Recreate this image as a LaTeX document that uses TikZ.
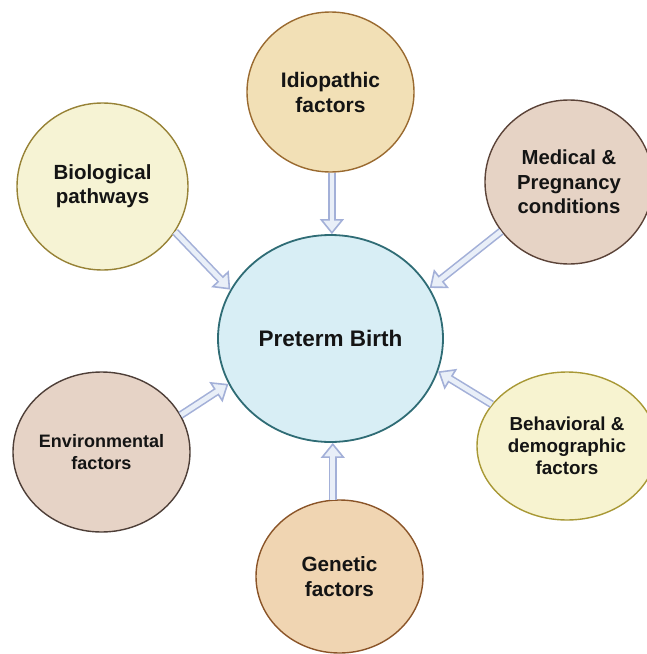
\documentclass[tikz,border=0pt]{standalone}
\usepackage{fontspec}
\setmainfont{Liberation Sans}
\usetikzlibrary{shapes.geometric,arrows.meta}

\definecolor{inkblack}{HTML}{141414}
\definecolor{arrowline}{HTML}{A3B0D8}
\definecolor{arrowfill}{HTML}{E9EFF8}
\definecolor{pbfill}{HTML}{D8EEF5}
\definecolor{pbdraw}{HTML}{2F6C75}
\definecolor{idiofill}{HTML}{F2E0B6}
\definecolor{idiodraw}{HTML}{9A6A30}
\definecolor{biofill}{HTML}{F6F3D4}
\definecolor{biodraw}{HTML}{978236}
\definecolor{medfill}{HTML}{E6D3C5}
\definecolor{meddraw}{HTML}{5B4338}
\definecolor{envfill}{HTML}{E6D3C6}
\definecolor{envdraw}{HTML}{4E3F38}
\definecolor{behfill}{HTML}{F7F3D0}
\definecolor{behdraw}{HTML}{A89835}
\definecolor{genfill}{HTML}{F0D5B2}
\definecolor{gendraw}{HTML}{8A5428}

\tikzset{
  factor/.style={ellipse, draw, line width=1.4pt, inner sep=0pt,
    align=center, text=inkblack},
  % hollow block arrow: outlined shaft plus outlined triangular head
  flow/.style={draw=arrowline, line width=8pt,
    -{Triangle[length=15pt,width=24pt,line width=1.6pt,fill=arrowfill,color=arrowline]},
    postaction={draw=arrowfill, line width=4.8pt, -, shorten >=11pt}},
}

\begin{document}
\begin{tikzpicture}[x=1pt,y=-1pt]
\useasboundingbox (0,0) rectangle (647,654);

% central outcome
\node[factor, fill=pbfill, draw=pbdraw, line width=1.8pt,
      minimum width=225pt, minimum height=207pt,
      font=\fontsize{22.5}{27}\selectfont\bfseries] (pb) at (330.5,338.5) {Preterm Birth};

% contributing factors
\node[factor, fill=idiofill, draw=idiodraw, minimum width=167pt, minimum height=160pt,
      font=\fontsize{21}{25}\selectfont\bfseries] (idio) at (330.5,92) {Idiopathic\\factors};
\node[factor, fill=biofill, draw=biodraw, minimum width=171pt, minimum height=167pt,
      font=\fontsize{20.5}{24}\selectfont\bfseries] (bio) at (102.5,186.5) {Biological\\pathways};
\node[factor, fill=medfill, draw=meddraw, minimum width=168pt, minimum height=164pt,
      font=\fontsize{20.3}{24.5}\selectfont\bfseries] (med) at (569,182) {Medical \&\\Pregnancy\\conditions};
\node[factor, fill=envfill, draw=envdraw, minimum width=177pt, minimum height=160pt,
      font=\fontsize{18}{22}\selectfont\bfseries] (env) at (101.5,452) {Environmental\\factors};
\node[factor, fill=behfill, draw=behdraw, minimum width=180pt, minimum height=148pt,
      font=\fontsize{18.8}{22}\selectfont\bfseries] (beh) at (567,446) {Behavioral \&\\demographic\\factors};
\node[factor, fill=genfill, draw=gendraw, minimum width=167pt, minimum height=153pt,
      font=\fontsize{20.7}{25}\selectfont\bfseries] (gen) at (339.5,576.5) {Genetic\\factors};

% arrows into the centre
\draw[flow] (idio.-89) -- (idio.-89 |- pb.north);
\draw[flow] (bio.-32) -- (pb.154);
\draw[flow] (med.216.7) -- (pb.27.4);
\draw[flow] (env.25.6) -- (pb.204.8);
\draw[flow] (beh.151.9) -- (pb.-17.3);
\draw[flow] (gen.95) -- (gen.95 |- pb.south);
\end{tikzpicture}
\end{document}
